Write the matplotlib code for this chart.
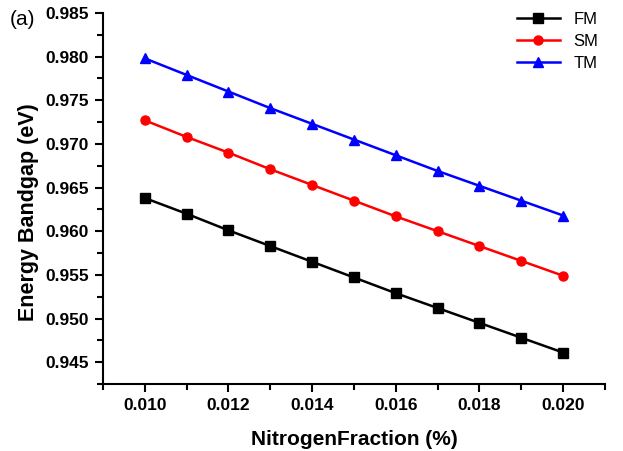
import matplotlib.pyplot as plt
from matplotlib.ticker import MultipleLocator

plt.rcParams['font.family'] = ['Liberation Sans', 'DejaVu Sans']

fraction = [0.010, 0.011, 0.012, 0.013, 0.014, 0.015, 0.016, 0.017, 0.018, 0.019, 0.020]
fm = [0.9638, 0.9620, 0.9601, 0.9583, 0.9565, 0.9547, 0.9529, 0.9512, 0.9495, 0.9478, 0.9461]
sm = [0.9727, 0.9708, 0.9690, 0.9671, 0.9653, 0.9635, 0.9617, 0.9600, 0.9583, 0.9566, 0.9549]
tm = [0.9798, 0.9779, 0.9760, 0.9741, 0.9723, 0.9705, 0.9687, 0.9669, 0.9652, 0.9635, 0.9618]

fig = plt.figure(figsize=(6.23, 4.51), dpi=100)
ax = fig.add_axes([0.1653, 0.1486, 0.8057, 0.8226])

ax.plot(fraction, fm, color="black", marker="s", markersize=6.5, linewidth=1.8, label="FM")
ax.plot(fraction, sm, color="red", marker="o", markersize=6.5, linewidth=1.8, label="SM")
ax.plot(fraction, tm, color="blue", marker="^", markersize=7.5, linewidth=1.8, label="TM")

ax.set_xlim(0.009, 0.021)
ax.set_ylim(0.9425, 0.985)
ax.xaxis.set_major_locator(MultipleLocator(0.002))
ax.xaxis.set_minor_locator(MultipleLocator(0.001))
ax.yaxis.set_major_locator(MultipleLocator(0.005))
ax.yaxis.set_minor_locator(MultipleLocator(0.0025))
ax.xaxis.set_major_formatter(plt.FormatStrFormatter('%.3f'))
ax.yaxis.set_major_formatter(plt.FormatStrFormatter('%.3f'))

for s in ["top", "right"]:
    ax.spines[s].set_visible(False)
for s in ["left", "bottom"]:
    ax.spines[s].set_linewidth(1.5)

ax.tick_params(which="major", direction="out", length=6, width=1.5, labelsize=12.5, pad=4)
ax.tick_params(which="minor", direction="out", length=4, width=1.5)
for lab in ax.get_xticklabels() + ax.get_yticklabels():
    lab.set_fontweight("bold")

ax.set_xlabel("NitrogenFraction (%)", fontsize=15, fontweight="bold", labelpad=12)
ax.set_ylabel("Energy Bandgap (eV)", fontsize=15.5, fontweight="bold")
ax.yaxis.set_label_coords(-0.127, 0.464)

ax.legend(loc="upper right", frameon=False, fontsize=12, handlelength=2.6,
          borderaxespad=0.0, labelspacing=0.4, bbox_to_anchor=(1.0, 1.02))

fig.text(0.015, 0.945, "(a)", fontsize=15)

fig.savefig("out.png", dpi=100)
